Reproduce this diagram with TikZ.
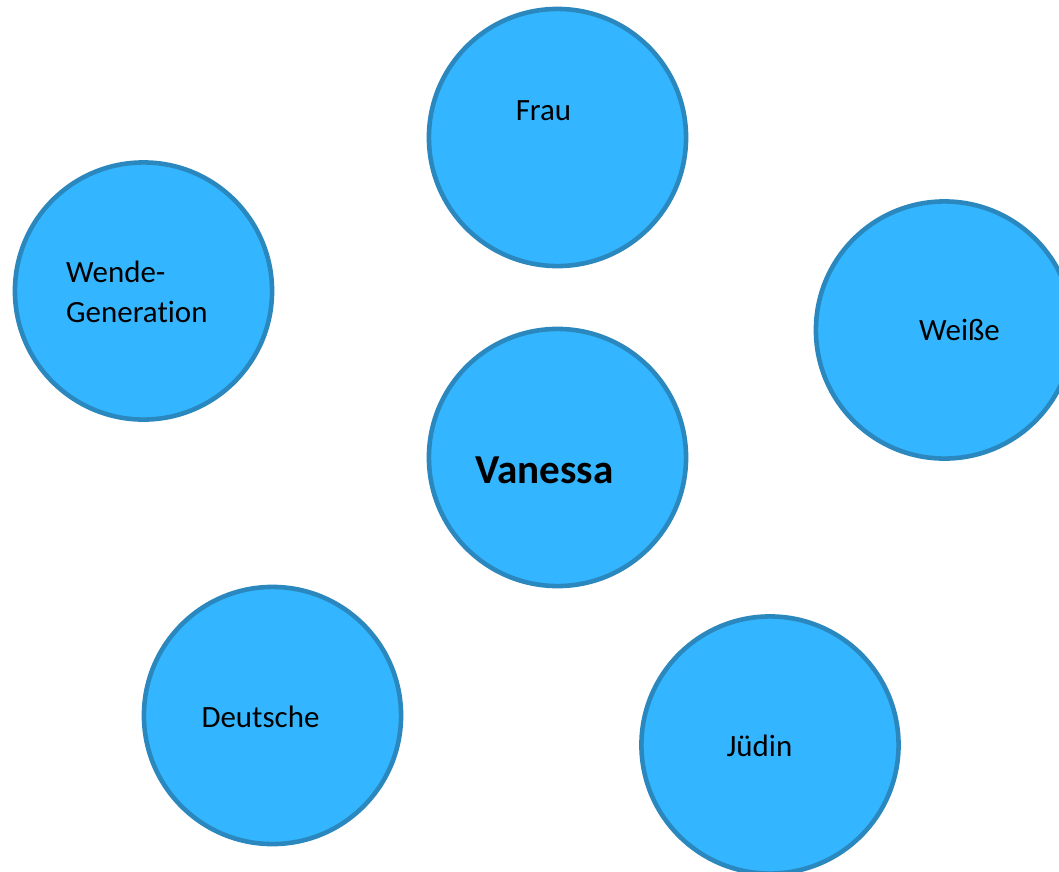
\documentclass[tikz,border=0pt]{standalone}
\usepackage{fontspec}
\setmainfont{Carlito}[Ligatures=NoCommon]
\usepackage{tikz}
\definecolor{kreisblau}{HTML}{33B5FF}
\definecolor{randblau}{HTML}{2A88BE}
\tikzset{
	kreis/.style={circle, draw=randblau, fill=kreisblau, line width=1.3pt, minimum size=2.57cm, inner sep=0},
	wort/.style={anchor=base, inner sep=0, font=\fontsize{8.8}{11.1}\selectfont},
}

\begin{document}
\begin{tikzpicture}[x=0.01cm, y=-0.01cm]
		\useasboundingbox (0,0) rectangle (1059,872);
		\clip (0,0) rectangle (1059,872);
		
		% Kreise
		\node[kreis] (frau) at (557.5,137.5) {};
		\node[kreis] (wende) at (143.5,291) {};
		\node[kreis] (weisse) at (944.5,330) {};
		\node[kreis] (vanessa) at (557.5,457.5) {};
		\node[kreis] (deutsche) at (272.5,715.5) {};
		\node[kreis] (juedin) at (770,745) {};
		
		% Beschriftungen
		\node[wort] (frau-t) at (543.5,120) {Frau};
		\node[wort, anchor=base west, align=left] (wende-t) at (65.5,322) {Wende-\\Generation};
		\node[wort] (weisse-t) at (959.5,340) {Weiße};
		\node[wort, font=\fontsize{11.7}{13}\selectfont\bfseries] (vanessa-t) at (544.5,483) {Vanessa};
		\node[wort] (deutsche-t) at (260.5,727) {Deutsche};
		\node[wort] (juedin-t) at (759.5,756) {Jüdin};
\end{tikzpicture}
\end{document}
